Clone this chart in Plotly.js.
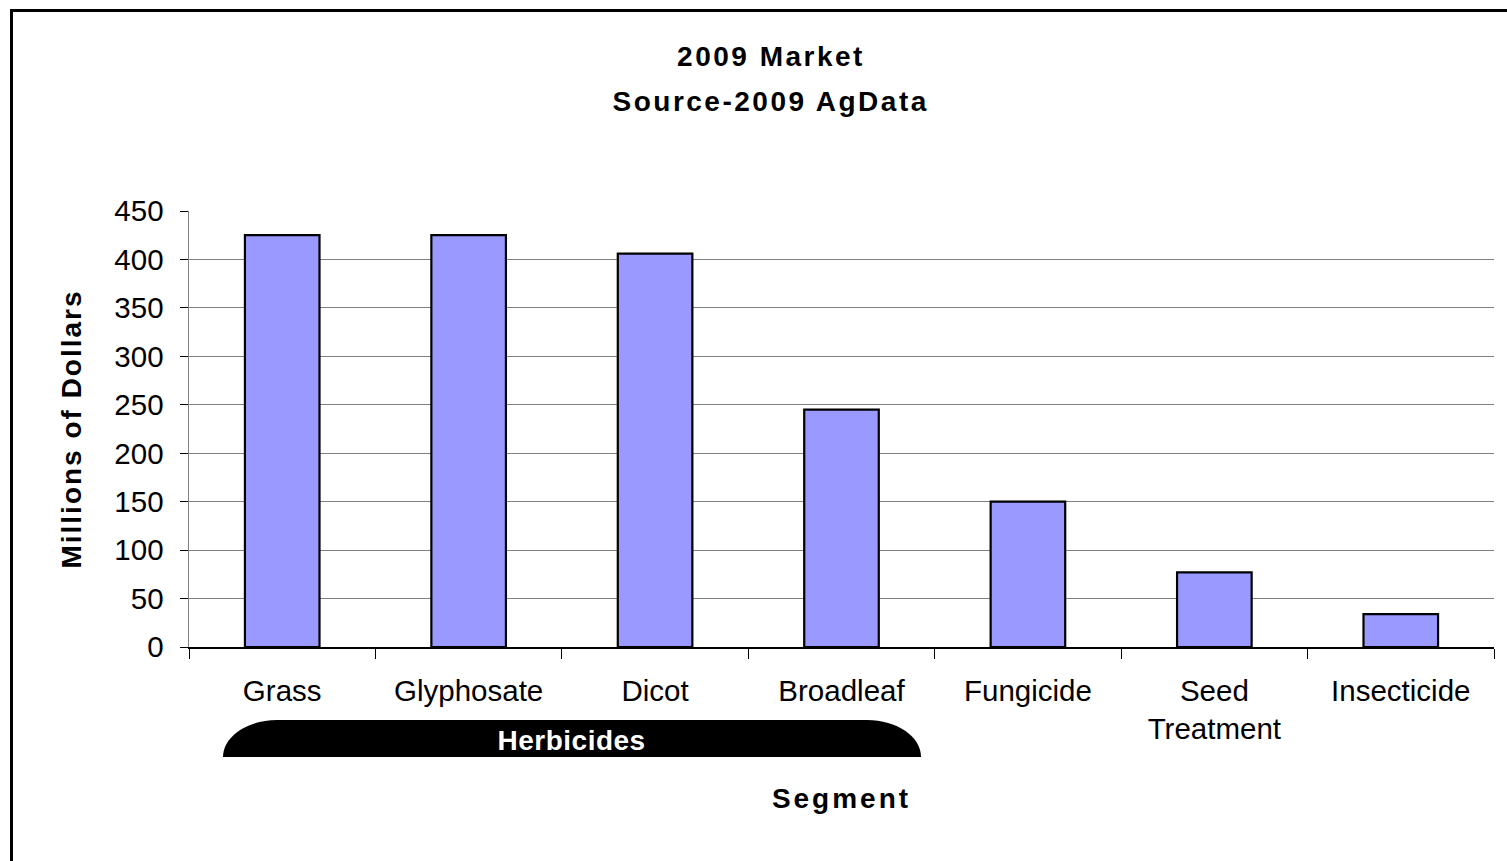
<!DOCTYPE html>
<html>
<head>
<meta charset="utf-8">
<script src="https://cdn.plot.ly/plotly-3.0.1.min.js"></script>
<style>
  html, body { margin: 0; padding: 0; background: #fff; overflow: hidden; }
  #wrap { position: relative; width: 1507px; height: 861px; overflow: hidden; }
  #chart { position: absolute; left: 0; top: 0; width: 1507px; height: 861px; }
  #frame { position: absolute; left: 10px; top: 9px; width: 2000px; height: 2000px;
           border: 3px solid #000; pointer-events: none; box-sizing: border-box; }
  .gtitle { letter-spacing: 2.5px; }
  .xtitle { letter-spacing: 3px; }
  .ytitle { letter-spacing: 2px; }
  .annotation[data-index="0"] .annotation-text { letter-spacing: 2.5px; }
  .annotation[data-index="1"] .annotation-text { letter-spacing: 0.5px; }
</style>
</head>
<body>
<div id="wrap">
  <div id="chart"></div>
  <div id="frame"></div>
</div>
<script>
// ---- data ----
const categories = ['Grass', 'Glyphosate', 'Dicot', 'Broadleaf', 'Fungicide', 'Seed Treatment', 'Insecticide'];
const tickLabels = ['Grass', 'Glyphosate', 'Dicot', 'Broadleaf', 'Fungicide', 'Seed<br>Treatment', 'Insecticide'];
const values = [425, 425, 406, 245, 150, 77, 34];
const yTickValues = [0, 50, 100, 150, 200, 250, 300, 350, 400, 450];
const chartTitle = '2009 Market';
const chartSubtitle = 'Source-2009 AgData';
const xTitle = 'Segment';
const yTitle = 'Millions of Dollars';
const groupLabel = 'Herbicides';

// ---- layout helpers ----
const FONT = 'Arial, "Liberation Sans", sans-serif';
const W = 1507, H = 861;
const M = { l: 189, r: 13, t: 211, b: 214 };
const plotW = W - M.l - M.r, plotH = H - M.t - M.b;
const px2paperX = px => (px - M.l) / plotW;
const px2paperY = py => (H - M.b - py) / plotH;

// Herbicides banner (rounded-top shape)
const bx0 = px2paperX(223), bx1 = px2paperX(921);
const byB = px2paperY(757), byT = px2paperY(720);
const rx = 54 / plotW, k = 0.5523;
const ry = byT - byB;
const bannerPath =
  `M ${bx0} ${byB} ` +
  `C ${bx0} ${byB + k * ry} ${bx0 + rx - k * rx} ${byT} ${bx0 + rx} ${byT} ` +
  `L ${bx1 - rx} ${byT} ` +
  `C ${bx1 - rx + k * rx} ${byT} ${bx1} ${byB + k * ry} ${bx1} ${byB} Z`;

const trace = {
  type: 'bar',
  x: categories,
  y: values,
  marker: { color: '#9999FF', line: { color: '#000000', width: 2.2 } },
  hoverinfo: 'x+y'
};

const layout = {
  width: W, height: H,
  margin: M,
  paper_bgcolor: '#ffffff',
  plot_bgcolor: '#ffffff',
  showlegend: false,
  bargap: 0.6,
  font: { family: FONT, color: '#000' },
  title: {
    text: '<b>' + chartTitle + '</b>',
    font: { family: FONT, size: 28, color: '#000' },
    xref: 'container', x: 771 / W, xanchor: 'center',
    yref: 'container', y: 1 - 56 / H, yanchor: 'middle'
  },
  xaxis: {
    type: 'category',
    tickmode: 'array',
    tickvals: categories,
    ticktext: tickLabels,
    tickson: 'boundaries',
    ticks: 'outside', ticklen: 10, tickwidth: 1, tickcolor: '#000',
    showline: true, linecolor: '#000', linewidth: 1.5,
    showgrid: false, zeroline: false,
    tickfont: { family: FONT, size: 29.5, color: '#000' },
    ticklabelstandoff: 17,
    title: { text: '<b>' + xTitle + '</b>', font: { family: FONT, size: 28, color: '#000' }, standoff: 44 },
    automargin: false
  },
  yaxis: {
    range: [0, 450],
    tickmode: 'array',
    tickvals: yTickValues,
    ticks: 'outside', ticklen: 8, tickwidth: 1, tickcolor: '#000',
    showline: true, linecolor: '#808080', linewidth: 1.5,
    showgrid: true, gridcolor: '#808080', gridwidth: 1,
    zeroline: false,
    tickfont: { family: FONT, size: 29.5, color: '#000' },
    ticklabelstandoff: 10,
    title: { text: '<b>' + yTitle + '</b>', font: { family: FONT, size: 28, color: '#000' }, standoff: 24 },
    automargin: false
  },
  shapes: [
    { type: 'path', xref: 'paper', yref: 'paper', path: bannerPath,
      fillcolor: '#000', line: { color: '#000', width: 0 }, layer: 'above' }
  ],
  annotations: [
    { xref: 'paper', yref: 'paper', x: px2paperX(771), y: px2paperY(101),
      xanchor: 'center', yanchor: 'middle', showarrow: false,
      text: '<b>' + chartSubtitle + '</b>',
      font: { family: FONT, size: 28, color: '#000' } },
    { xref: 'paper', yref: 'paper', x: px2paperX(571), y: px2paperY(740),
      xanchor: 'center', yanchor: 'middle', showarrow: false,
      text: '<b>' + groupLabel + '</b>',
      font: { family: FONT, size: 28, color: '#fff' } }
  ]
};

Plotly.newPlot('chart', [trace], layout, { displayModeBar: false, staticPlot: true });
</script>
</body>
</html>
